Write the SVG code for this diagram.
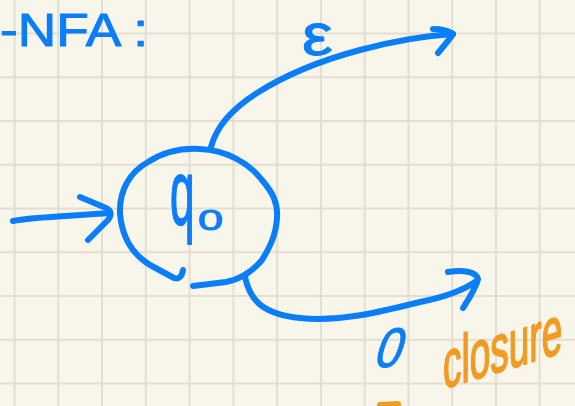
<svg xmlns="http://www.w3.org/2000/svg" width="575" height="406" viewBox="0 0 575 406">
<style>
.grid{stroke:#e2dfd2;stroke-width:2;fill:none}
.pen{fill:none;stroke:#0a7ef8;stroke-width:6;stroke-linecap:round;stroke-linejoin:round}
.bt{font-family:"Liberation Sans",Arial,sans-serif;fill:#0a7ef8;stroke:#0a7ef8;stroke-width:1;stroke-linejoin:round}
.ot{font-family:"Liberation Sans",Arial,sans-serif;fill:#f39a21;stroke:#f39a21;stroke-width:1;stroke-linejoin:round}
.opn{fill:none;stroke:#f39a21;stroke-width:6;stroke-linecap:round}
</style>
<rect width="575" height="406" fill="#f8f6eb"/>
<path class="grid" d="M14.5,0V406M58.3,0V406M102,0V406M145.8,0V406M189.6,0V406M233.4,0V406M277.1,0V406M320.9,0V406M364.7,0V406M408.4,0V406M452.2,0V406M496,0V406M539.7,0V406M0,33.4H575M0,77.2H575M0,120.9H575M0,164.7H575M0,208.4H575M0,252.2H575M0,295.9H575M0,339.7H575M0,383.4H575"/>
<g id="title">
<text class="bt" x="0" y="46" font-size="46" textLength="148" lengthAdjust="spacingAndGlyphs">-NFA :</text>
</g>
<g id="connectors">
<g id="edge-start">
<path class="pen" d="M13,221 C30,217 70,216 110,213"/>
<path class="pen" d="M80,197 L106,208 C112,211 112,216 107,221 L88,240"/>
</g>
<g id="edge-epsilon">
<path class="pen" d="M211,147 C216,128 230,110 257,93 C290,72 330,58 360,50 C390,42 420,36 453,34"/>
<path class="pen" d="M433,29 C441,29 450,31 453,34 C449,40 443,47 438,53"/>
<text class="bt" font-size="60" stroke-width="0" transform="translate(302,55) scale(1.15,1)">ε</text>
</g>
<g id="edge-zero">
<path class="pen" d="M245,277 C250,300 262,314 300,318 C340,322 380,312 420,302 C445,297 462,291 475,282"/>
<path class="pen" d="M448,272 C462,270 476,271 478,279 C476,288 470,297 463,308"/>
<text class="bt" font-size="56" transform="translate(372,367) skewX(-18) scale(0.85,1)">0</text>
</g>
</g>
<g id="q0">
<path class="pen" d="M183,270 C182,276 179,280 174,278 L150,265 C132,254 122,236 120,214 C119,190 130,172 148,162 C165,151 182,148 200,149 C225,150 248,162 262,180 C273,193 278,203 277,218 C276,235 270,247 262,260 C252,272 240,279 226,282 L193,286"/>
<text class="bt" font-size="52" transform="translate(170,225) scale(0.85,1.8)">q</text>
<text class="bt" font-size="30" transform="translate(198,230) scale(1.5,1)">0</text>
</g>
<g id="note">
<text class="ot" font-size="37" transform="translate(443,389) skewY(-17) scale(1,1.85)">closure</text>
<path class="opn" d="M380,405 L398,404"/>
</g>
</svg>
